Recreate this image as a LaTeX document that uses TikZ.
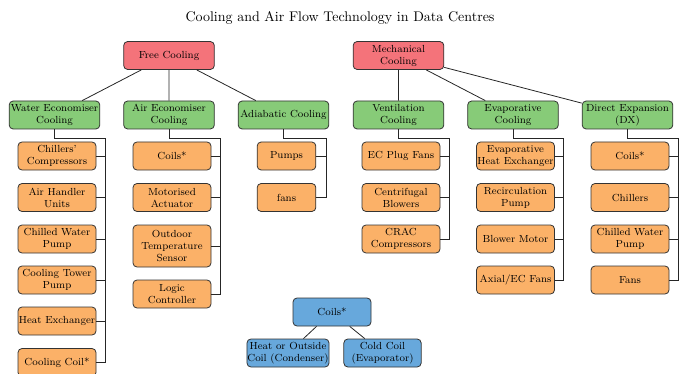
\documentclass[tikz,border=0pt]{standalone}
\usepackage{amsmath}
\usepackage{tikz}
\usetikzlibrary{positioning}

\definecolor{topred}{HTML}{F4737A}
\definecolor{midgreen}{HTML}{87CB78}
\definecolor{leaforange}{HTML}{FBB168}
\definecolor{coilblue}{HTML}{67A8DC}

\begin{document}
\begin{tikzpicture}[x=0.75pt,y=-0.75pt,
  box/.style={draw=black!80, line width=0.6pt, rounded corners=3pt, align=center,
    inner xsep=0.3pt, inner ysep=1pt, font=\fontsize{7.7}{9}\selectfont},
  topbox/.style={box, fill=topred, minimum width=68pt, minimum height=21pt},
  midbox/.style={box, fill=midgreen, minimum width=68pt, minimum height=21pt},
  leafbox/.style={box, fill=leaforange, minimum width=58.5pt, minimum height=21pt},
  coilbox/.style={box, fill=coilblue, minimum height=21pt},
  link/.style={draw=black!85, line width=0.6pt}]
\useasboundingbox (0,0) rectangle (681,374);

\node[font=\fontsize{10.5}{12}\selectfont] (title) at (340,18) {Cooling and Air Flow Technology in Data Centres};

% top level
\node[topbox] (free) at (169,55.5) {Free Cooling};
\node[topbox] (mech) at (398.5,55.5) {Mechanical\\Cooling};

% second level
\node[midbox] (water) at (54.5,115) {Water Economiser\\Cooling};
\node[midbox] (air) at (169,115) {Air Economiser\\Cooling};
\node[midbox] (adia) at (283.5,115) {Adiabatic Cooling};
\node[midbox] (vent) at (398.5,115) {Ventilation\\Cooling};
\node[midbox] (evap) at (513,115) {Evaporative\\Cooling};
\node[midbox] (dx) at (627.5,115) {Direct Expansion\\(DX)};

\draw[link] (free) -- (water) (free) -- (air) (free) -- (adia);
\draw[link] (mech) -- (vent) (mech) -- (evap) (mech) -- (dx);

% water economiser
\node[leafbox] (wchill) at (57,156) {Chillers'\\Compressors};
\node[leafbox] (wahu) at (57,197.5) {Air Handler\\Units};
\node[leafbox] (wcwp) at (57,239) {Chilled Water\\Pump};
\node[leafbox] (wctp) at (57,280) {Cooling Tower\\Pump};
\node[leafbox] (whx) at (57,321) {Heat Exchanger};
\node[leafbox] (wcoil) at (57,362.5) {Cooling Coil*};
\coordinate (wrail) at (105,138);
\draw[link] (water.south) |- (wrail) |- (wcoil.east);
\foreach \n in {wchill,wahu,wcwp,wctp,whx}
  \draw[link] (\n.east) -- (\n.east -| wrail);

% air economiser
\node[leafbox] (acoil) at (172,156) {Coils*};
\node[leafbox] (aact) at (172,197.5) {Motorised\\Actuator};
\node[leafbox, minimum height=31.5pt] (asens) at (172,246) {Outdoor\\Temperature\\Sensor};
\node[leafbox] (alog) at (172,294) {Logic\\Controller};
\coordinate (arail) at (220,138);
\draw[link] (air.south) |- (arail) |- (alog.east);
\foreach \n in {acoil,aact,asens}
  \draw[link] (\n.east) -- (\n.east -| arail);

% adiabatic
\node[leafbox, minimum width=44pt] (dpump) at (286.5,156) {Pumps};
\node[leafbox, minimum width=44pt] (dfan) at (286.5,197.5) {fans};
\coordinate (drail) at (326,138);
\draw[link] (adia.south) |- (drail) |- (dfan.east);
\draw[link] (dpump.east) -- (dpump.east -| drail);

% ventilation
\node[leafbox] (vplug) at (401,156) {EC Plug Fans};
\node[leafbox] (vblow) at (401,197.5) {Centrifugal\\Blowers};
\node[leafbox] (vcrac) at (401,239) {CRAC\\Compressors};
\coordinate (vrail) at (449,138);
\draw[link] (vent.south) |- (vrail) |- (vcrac.east);
\foreach \n in {vplug,vblow}
  \draw[link] (\n.east) -- (\n.east -| vrail);

% evaporative
\node[leafbox] (ehx) at (515.5,156) {Evaporative\\Heat Exchanger};
\node[leafbox] (epump) at (515.5,197.5) {Recirculation\\Pump};
\node[leafbox] (emot) at (515.5,239) {Blower Motor};
\node[leafbox] (efan) at (515.5,280) {Axial/EC Fans};
\coordinate (erail) at (563,138);
\draw[link] (evap.south) |- (erail) |- (efan.east);
\foreach \n in {ehx,epump,emot}
  \draw[link] (\n.east) -- (\n.east -| erail);

% direct expansion
\node[leafbox] (xcoil) at (630,156) {Coils*};
\node[leafbox] (xchill) at (630,197.5) {Chillers};
\node[leafbox] (xcwp) at (630,239) {Chilled Water\\Pump};
\node[leafbox] (xfan) at (630,280) {Fans};
\coordinate (xrail) at (678,138);
\draw[link] (dx.south) |- (xrail) |- (xfan.east);
\foreach \n in {xcoil,xchill,xcwp}
  \draw[link] (\n.east) -- (\n.east -| xrail);

% coils
\node[coilbox, minimum width=58.5pt] (coils) at (332,312) {Coils*};
\node[coilbox, minimum width=61.5pt] (hot) at (288,353) {Heat or Outside\\Coil (Condenser)};
\node[coilbox, minimum width=58pt] (cold) at (382.5,353) {Cold Coil\\(Evaporator)};
\draw[link] (coils) -- (hot) (coils) -- (cold);
\end{tikzpicture}
\end{document}
